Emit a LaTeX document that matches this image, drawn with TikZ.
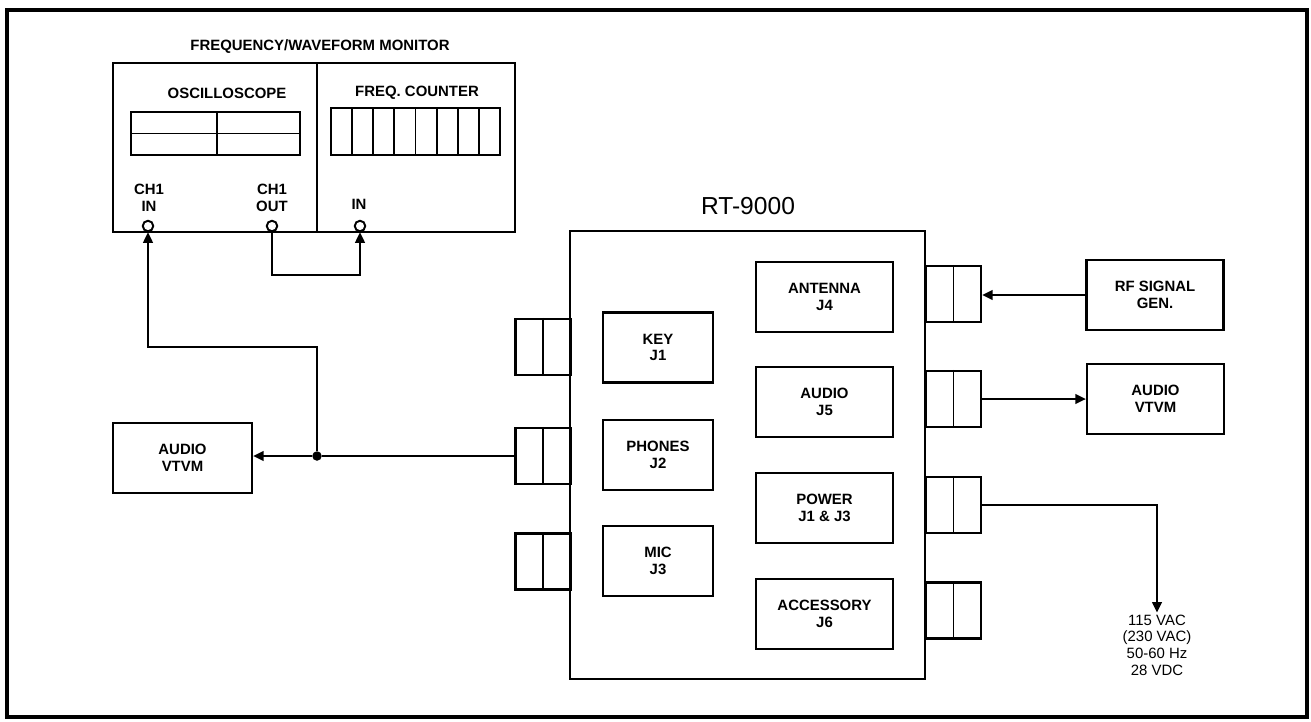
\documentclass[tikz,border=0pt]{standalone}
\usepackage{fontspec}
\setmainfont{Liberation Sans}
\usetikzlibrary{arrows.meta}
\tikzset{inbox/.style = {draw, line width=1.3pt, align=center, font=\bfseries\fontsize{8.5}{9.5}\selectfont},
  unitbox/.style = {inbox, minimum width=2.74cm, minimum height=1.4cm},
  jbox/.style = {inbox, minimum width=2.2cm, minimum height=1.4cm},
  plug/.style = {draw, line width=1.3pt, minimum width=1.1cm, minimum height=1.12cm},
  jack/.style = {draw, circle, line width=1.1pt, fill=white, inner sep=0, minimum size=0.21cm},
  junc/.style = {fill, circle, inner sep=0, minimum size=0.19cm},
  wire/.style = {line width=1.1pt},
  sig/.style = {wire, -{Triangle[length=6pt, width=5.5pt]}},
  lbl/.style = {align=center, font=\bfseries\fontsize{8.5}{9.5}\selectfont}}

\begin{document}
\begin{tikzpicture}[x=0.02cm, y=-0.02cm]
  \useasboundingbox (0,0) rectangle (1311,721);
  \draw[line width=2.8pt] (7,10) rectangle (1307,717);

  % frequency / waveform monitor
  \node[lbl] (mtitle) at (320,47) {FREQUENCY/WAVEFORM MONITOR};
  \node[inbox, minimum width=4.08cm, minimum height=3.38cm] (scope) at (215,147.5) {};
  \node[inbox, minimum width=3.96cm, minimum height=3.38cm] (counter) at (416,147.5) {};
  \node[lbl] (scopel) at (227,93) {OSCILLOSCOPE};
  \node[lbl] (counterl) at (417,93) {FREQ. COUNTER};
  \draw[wire] (131,112) rectangle (300,155);
  \draw[wire] (217,112) -- (217,155);
  \draw[wire] (131,133.5) -- (300,133.5);
  \draw[wire] (331,108) rectangle (500,155);
  \foreach \i in {1,...,7}
    \draw[wire] ({331+\i*21.125},108) -- ++(0,47);
  \node[lbl] (chinl) at (149,198) {CH1\\IN};
  \node[lbl] (choutl) at (272,198) {CH1\\OUT};
  \node[lbl] (finl) at (359,204) {IN};
  \node[jack] (chin) at (148,226) {};
  \node[jack] (chout) at (272,226) {};
  \node[jack] (fin) at (360,226) {};

  % RT-9000
  \node[font=\fontsize{14}{16}\selectfont] (rtl) at (748,206) {RT-9000};
  \node[inbox, minimum width=7.1cm, minimum height=8.96cm] (rt) at (747.5,455) {};
  \node[jbox] (key) at (658,347.5) {KEY\\J1};
  \node[jbox] (phones) at (658,455) {PHONES\\J2};
  \node[jbox] (mic) at (658,561) {MIC\\J3};
  \node[unitbox] (ant) at (824.5,297) {ANTENNA\\J4};
  \node[unitbox] (audio) at (824.5,402) {AUDIO\\J5};
  \node[unitbox] (power) at (824.5,508) {POWER\\J1 \& J3};
  \node[unitbox] (accy) at (824.5,614) {ACCESSORY\\J6};
  \node[plug] (kc) at (543,347) {};
  \node[plug] (pc) at (543,456) {};
  \node[plug] (mc) at (543,561.5) {};
  \node[plug] (anc) at (953.5,294) {};
  \node[plug] (auc) at (953.5,399) {};
  \node[plug] (pwc) at (953.5,505) {};
  \node[plug] (acc) at (953.5,610.5) {};
  \foreach \p in {kc,pc,mc,anc,auc,pwc,acc}
    \draw[wire] (\p.north) -- (\p.south);

  % test equipment
  \node[inbox, minimum width=2.78cm, minimum height=1.4cm] (vtvml) at (182.5,458) {AUDIO\\VTVM};
  \node[unitbox] (rfgen) at (1155,295) {RF SIGNAL\\GEN.};
  \node[unitbox] (vtvmr) at (1155.5,399) {AUDIO\\VTVM};
  \node[align=center, font=\fontsize{8.5}{9.5}\selectfont, inner sep=1pt] (supply) at (1157,645) {115 VAC\\(230 VAC)\\50-60 Hz\\28 VDC};

  % wiring
  \node[junc] (jn) at (317,456) {};
  \coordinate (bend) at (148,347);
  \coordinate (loop) at (272,275);
  \draw[wire] (pc.west) -- (jn);
  \draw[sig] (jn) -- (jn -| vtvml.east);
  \draw[sig] (jn) |- (bend) -- (chin);
  \draw[sig] (chout) -- (loop) -| (fin);
  \draw[sig] (rfgen.west) -- (rfgen.west -| anc.east);
  \draw[sig] (auc.east) -- (auc.east -| vtvmr.west);
  \draw[sig] (pwc.east) -| (supply.north);
\end{tikzpicture}
\end{document}
